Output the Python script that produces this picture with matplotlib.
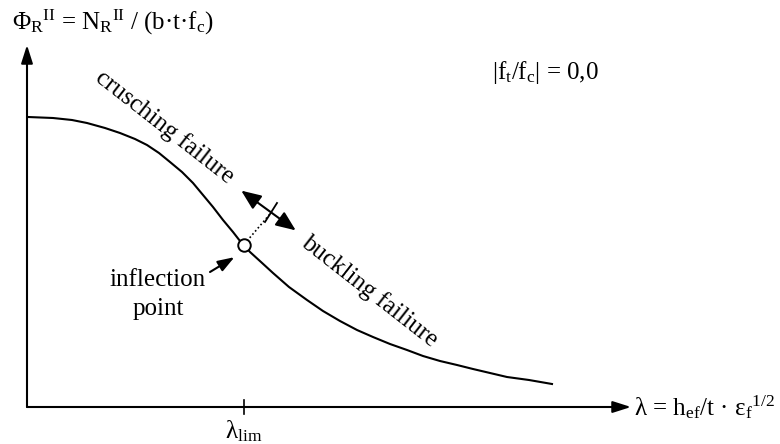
import matplotlib
matplotlib.use('Agg')
import matplotlib.pyplot as plt
from matplotlib.patches import FancyArrowPatch

plt.rcParams['font.family'] = ['Liberation Serif', 'DejaVu Serif']
plt.rcParams['mathtext.fontset'] = 'custom'
plt.rcParams['mathtext.rm'] = 'Liberation Serif'
plt.rcParams['mathtext.it'] = 'Liberation Serif'

# curve (lambda, Phi) in arbitrary units
lam = [1, 26, 45, 60, 78, 93, 108, 120, 132, 143, 155, 166, 176, 186, 196, 206, 213, 218,
       223, 234, 246, 262, 280, 296, 313, 330, 346, 363, 380, 396, 413, 430, 446, 463, 480, 502, 525]
phi = [290, 289, 287, 284, 279, 274, 268, 262, 254, 245, 235, 224, 212, 200, 187, 175, 166, 161,
       155, 145, 134, 120, 107, 96, 86, 77, 70, 63, 57, 51, 46, 42, 38, 34, 30, 27, 23]
lam_lim = 217
phi_infl = 162

ylabel = r'Φ$_\mathrm{R}{}^\mathrm{II}$ = N$_\mathrm{R}{}^\mathrm{II}$ / (b·t·f$_\mathrm{c}$)'
xlabel = r'λ = h$_\mathrm{ef}$/t · ε$_\mathrm{f}{}^\mathrm{1/2}$'
ratio_txt = r'|f$_\mathrm{t}$/f$_\mathrm{c}$| = 0,0'
fs = 18

fig = plt.figure(figsize=(7.8, 4.44), dpi=100)
ax = fig.add_axes([0, 0, 1, 1])
ax.set_xlim(-27, 753)
ax.set_ylim(-37, 407)
ax.axis('off')

# axes arrows
head = dict(arrowstyle='-|>,head_length=1.1,head_width=0.35', color='k', lw=1.5, shrinkA=0, shrinkB=0)
ax.annotate('', xy=(604, 0), xytext=(0, 0), arrowprops=head)
ax.annotate('', xy=(0, 362), xytext=(0, 0), arrowprops=head)

ax.text(-15, 385, ylabel, fontsize=fs, ha='left', va='center')
ax.text(607, 0, xlabel, fontsize=fs, ha='left', va='center')
ax.text(465, 335, ratio_txt, fontsize=fs, ha='left', va='center')

# curve
ax.plot(lam, phi, color='k', lw=1.5)
ax.plot([lam_lim], [phi_infl], 'o', ms=9, mfc='white', mec='k', mew=1.4, zorder=5)

# lambda_lim tick
ax.plot([lam_lim, lam_lim], [-7, 7], color='k', lw=1.2)
ax.text(lam_lim, -24, r'λ$_\mathrm{lim}$', fontsize=fs, ha='center', va='center')

# rotated labels
ax.text(138, 280, 'crusching failure', fontsize=fs, rotation=-38, ha='center', va='center',
        rotation_mode='anchor')
ax.text(343, 116, 'buckling failiure', fontsize=fs, rotation=-38, ha='center', va='center',
        rotation_mode='anchor')

# double arrow between regimes
arr = FancyArrowPatch((212, 218), (271, 175), arrowstyle='<|-|>,head_length=12,head_width=5',
                      color='k', lw=1.5, mutation_scale=1)
ax.add_patch(arr)
ax.plot([250, 238], [204, 185], color='k', lw=1.3)
ax.plot([220, 243], [166, 193], color='k', lw=1.2, ls=(0, (1, 1.5)))

# inflection point pointer
ax.annotate('', xy=(211, 152), xytext=(183, 135),
            arrowprops=dict(arrowstyle='-|>,head_length=1.0,head_width=0.35', color='k', lw=1.5,
                            shrinkA=0, shrinkB=3))
ax.text(131, 127, 'inflection', fontsize=fs, ha='center', va='center')
ax.text(131, 98, 'point', fontsize=fs, ha='center', va='center')

fig.savefig('out.png', dpi=100)
